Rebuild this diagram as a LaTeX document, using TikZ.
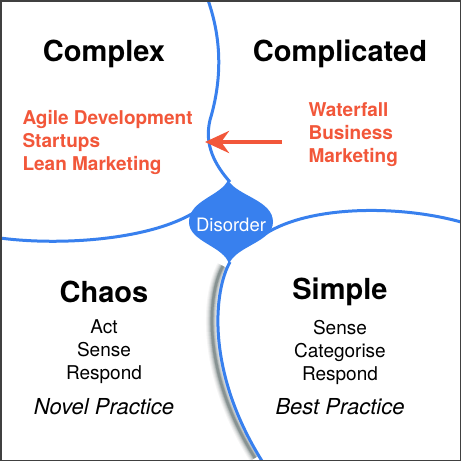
\documentclass[tikz,border=0pt]{standalone}
\usepackage{fontspec}
\setmainfont{TeX Gyre Heros}
\usetikzlibrary{arrows.meta}

\definecolor{cynblue}{HTML}{3880EE}
\definecolor{cynorange}{HTML}{F2573A}

\begin{document}
\begin{tikzpicture}[x=1pt, y=-1pt, >=Stealth,
    edge/.style={draw=cynblue, line width=3pt},
    dom/.style={font=\fontsize{29}{34}\selectfont\bfseries},
    hot/.style={text=cynorange, font=\fontsize{19}{23}\selectfont\bfseries, align=left, anchor=west},
    steps/.style={font=\fontsize{19}{23}\selectfont, align=center},
    prac/.style={font=\fontsize{22}{26}\selectfont\itshape}]
\useasboundingbox (0,0) rectangle (461,461);
\fill[white] (0,0) rectangle (461,461);
% shadow under the lower boundary
\begin{scope}[xshift=-4pt]
  \foreach \w/\o in {12/0.04, 10/0.05, 8/0.07, 6/0.1, 4/0.14, 2.5/0.18}
    \draw[black!80!teal, opacity=\o, line width=\w pt] (227,266) .. controls (212,292) and (204,370) .. (259,458);
\end{scope}
% boundaries
\draw[edge] (208,0) .. controls (222,40) and (222,80) .. (210,120) .. controls (204,145) and (215,165) .. (230,182);
\draw[edge] (0,238) .. controls (60,246) and (150,240) .. (195,212);
\draw[edge] (265,234) .. controls (310,205) and (400,205) .. (461,222);
\draw[edge] (230,262) .. controls (214,290) and (205,370) .. (262,461);
% disorder blob
\fill[cynblue] (228,180) .. controls (221,196) and (189,200) .. (189,222) .. controls (189,242) and (224,246) .. (229,264)
  .. controls (236,246) and (273,242) .. (273,222) .. controls (273,200) and (237,196) .. (228,180) -- cycle;
\node[text=white, font=\fontsize{18.5}{22}\selectfont] (dis) at (231,225) {Disorder};
% domains
\node[dom] (cx) at (104,54) {Complex};
\node[dom] (cd) at (340,54) {Complicated};
\node[dom] (ch) at (104,292) {Chaos};
\node[dom] (sp) at (340,292) {Simple};
\node[hot] (agile) at (19,142) {Agile Development\\Startups\\Lean Marketing};
\node[hot] (water) at (305,135) {Waterfall\\Business\\Marketing};
\node[steps] (chs) at (104,352) {Act\\Sense\\Respond};
\node[steps] (sps) at (340,352) {Sense\\Categorise\\Respond};
\node[prac] (nov) at (104,407) {Novel Practice};
\node[prac] (best) at (340,407) {Best Practice};
% shift arrow
\coordinate (from) at (282,142);
\coordinate (to) at (205,142);
\draw[cynorange, line width=4pt, -{Stealth[length=24pt, width=22pt]}] (from) -- (to);
\draw[black!75, line width=1.5pt] (0.75,0.75) rectangle (460.25,460.25);
\end{tikzpicture}
\end{document}
